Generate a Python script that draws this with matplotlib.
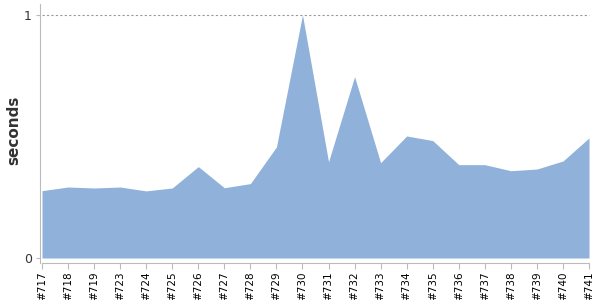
import matplotlib
matplotlib.use("Agg")
import matplotlib.pyplot as plt

builds = ["#717", "#718", "#719", "#723", "#724", "#725", "#726", "#727", "#728",
          "#729", "#730", "#731", "#732", "#733", "#734", "#735", "#736", "#737",
          "#738", "#739", "#740", "#741"]
seconds = [0.277, 0.292, 0.288, 0.292, 0.276, 0.288, 0.376, 0.289, 0.306,
           0.457, 1.0, 0.396, 0.746, 0.392, 0.502, 0.483, 0.384, 0.384,
           0.359, 0.366, 0.399, 0.494]
yticks = [0, 1]

fig = plt.figure(figsize=(6, 3), dpi=100)
ax = fig.add_axes([40/600, 37/300, 552/600, 259/300])

x = list(range(len(builds)))
ax.fill_between(x, seconds, 0, color="#8fb1da", linewidth=0)

ax.set_xlim(-0.077, len(builds) - 1 + 0.115)
ax.set_ylim(-0.0206, 1.045)

ax.hlines(1, 0, len(builds) - 1, colors="#999999", linestyles=(0, (2, 2)), linewidth=0.8)

ax.set_xticks(x)
ax.set_xticklabels(builds, rotation=90, fontsize=7.5, color="black")
ax.set_yticks(yticks)
ax.set_yticklabels([str(v) for v in yticks], fontsize=9, color="#333333")
ax.tick_params(axis="x", length=4, color="#bbbbbb", pad=2)
ax.tick_params(axis="y", length=3, color="#bbbbbb", pad=3)

for s in ["top", "right"]:
    ax.spines[s].set_visible(False)
ax.spines["left"].set_color("#bbbbbb")
ax.spines["bottom"].set_color("#bbbbbb")
ax.spines["bottom"].set_bounds(0, len(builds) - 1)

# y label placed by hand, it would get clipped otherwise
fig.text(14/600, 1 - 130/300, "seconds", rotation=90, ha="center", va="center",
         fontsize=11, fontweight="bold", color="#333333")

fig.savefig("out.png", dpi=100)
